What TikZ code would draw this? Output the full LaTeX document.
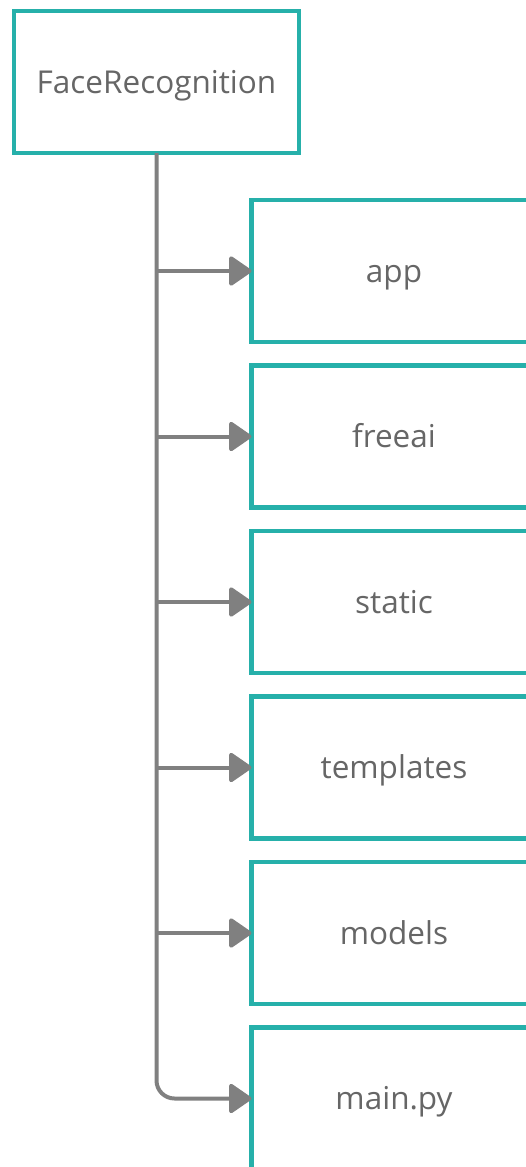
\documentclass[tikz,border=0pt]{standalone}
\usepackage{fontspec}
\setmainfont{Open Sans}
\usetikzlibrary{arrows.meta}
\definecolor{teal1}{RGB}{38,176,170}
\definecolor{conncol}{RGB}{128,128,128}
\definecolor{txtcol}{RGB}{102,102,102}
\tikzset{
  box/.style={draw=teal1, line width=4.5pt, fill=white, minimum width=285pt, minimum height=142pt,
    inner sep=0pt, outer sep=0pt, text=txtcol, text height=24pt, text depth=2pt,
    font=\fontsize{31.5}{36}\selectfont},
  conn/.style={draw=conncol, line width=4pt, -{Triangle[length=24pt,width=32pt,round]}}
}
\begin{document}
\begin{tikzpicture}[x=1pt,y=-1pt]
\useasboundingbox (0,0) rectangle (526,1167);
\clip (0,0) rectangle (526,1167);
\node[box] (root) at (156.5,82) {FaceRecognition};
\node[box] (c1) at (394,271) {app};
\node[box] (c2) at (394,436.5) {freeai};
\node[box] (c3) at (394,602) {static};
\node[box] (c4) at (394,767.5) {templates};
\node[box] (c5) at (394,933) {models};
\node[box] (c6) at (394,1098.5) {main.py};
\draw[conn, rounded corners=18pt] (root.south) |- (c6.west);
\foreach \c in {c1,c2,c3,c4,c5}{
  \draw[conn] (root.south |- \c.west) -- (\c.west);
}
\end{tikzpicture}
\end{document}
